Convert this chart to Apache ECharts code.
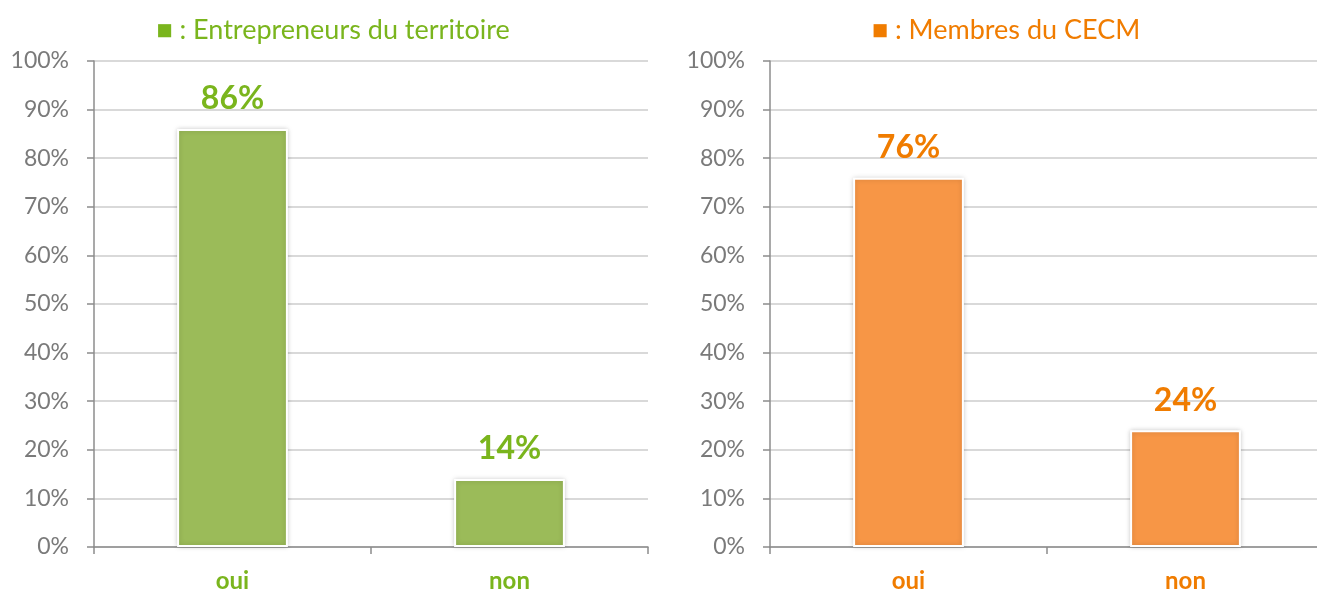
<!DOCTYPE html>
<html>
<head>
<meta charset="utf-8">
<script src="https://cdn.jsdelivr.net/npm/echarts@6/dist/echarts.min.js"></script>
<style>
html,body{margin:0;padding:0;background:#fff;}
#chart{width:1317px;height:590px;}
</style>
</head>
<body>
<div id="chart"></div>
<script>
var categories = ['oui', 'non'];
var entrepreneurs = [86, 14];
var membres = [76, 24];
var yTicks = [0, 10, 20, 30, 40, 50, 60, 70, 80, 90, 100];

var green = '#9bbb59', greenText = '#7ab51d';
var orange = '#f79646', orangeText = '#f07c00';
var font = 'Lato';

function yAxisOf(idx){
	return {
		type: 'value', gridIndex: idx,
		min: yTicks[0], max: yTicks[yTicks.length - 1], interval: yTicks[1] - yTicks[0],
		axisLabel: { formatter: '{value}%', color: '#7a7a7a', fontSize: 23, fontFamily: font, margin: 25 },
		axisLine: { show: true, lineStyle: { color: '#8c8c8c', width: 1.5 } },
		axisTick: { show: true, length: 7, lineStyle: { color: '#8c8c8c', width: 1.5 } },
		splitLine: { lineStyle: { color: '#d9d9d9', width: 2 } }
	};
}
function xAxisOf(idx, col){
	return {
		type: 'category', gridIndex: idx, data: categories,
		axisLabel: { color: col, fontSize: 24, fontWeight: 'bold', fontFamily: font, margin: 22 },
		axisLine: { lineStyle: { color: '#8c8c8c', width: 1.5 } },
		axisTick: { show: true, length: 7, lineStyle: { color: '#8c8c8c', width: 1.5 } }
	};
}
function seriesOf(idx, data, col, txt){
	return {
		type: 'bar', xAxisIndex: idx, yAxisIndex: idx, data: data, barWidth: '40%',
		itemStyle: { color: col, borderColor: '#fff', borderWidth: 2,
			shadowBlur: 5, shadowColor: 'rgba(0,0,0,0.18)' },
		label: { show: true, position: 'top', distance: 14, formatter: '{c}%',
			color: txt, fontSize: 32, fontWeight: 'bold', fontFamily: font }
	};
}

var chart = echarts.init(document.getElementById('chart'));
chart.setOption({
	animation: false,
	title: [
		{ text: '■ : Entrepreneurs du territoire', left: 328, top: 12, textAlign: 'center',
		  textStyle: { color: greenText, fontSize: 27, fontWeight: 'normal', fontFamily: font } },
		{ text: '■ : Membres du CECM', left: 1001, top: 12, textAlign: 'center',
		  textStyle: { color: orangeText, fontSize: 27, fontWeight: 'normal', fontFamily: font } }
	],
	grid: [
		{ left: 94, width: 554, top: 61, bottom: 43, outerBoundsMode: 'none' },
		{ left: 770, width: 554, top: 61, bottom: 43, outerBoundsMode: 'none' }
	],
	xAxis: [xAxisOf(0, greenText), xAxisOf(1, orangeText)],
	yAxis: [yAxisOf(0), yAxisOf(1)],
	series: [
		seriesOf(0, entrepreneurs, green, greenText),
		seriesOf(1, membres, orange, orangeText)
	]
});
</script>
</body>
</html>
